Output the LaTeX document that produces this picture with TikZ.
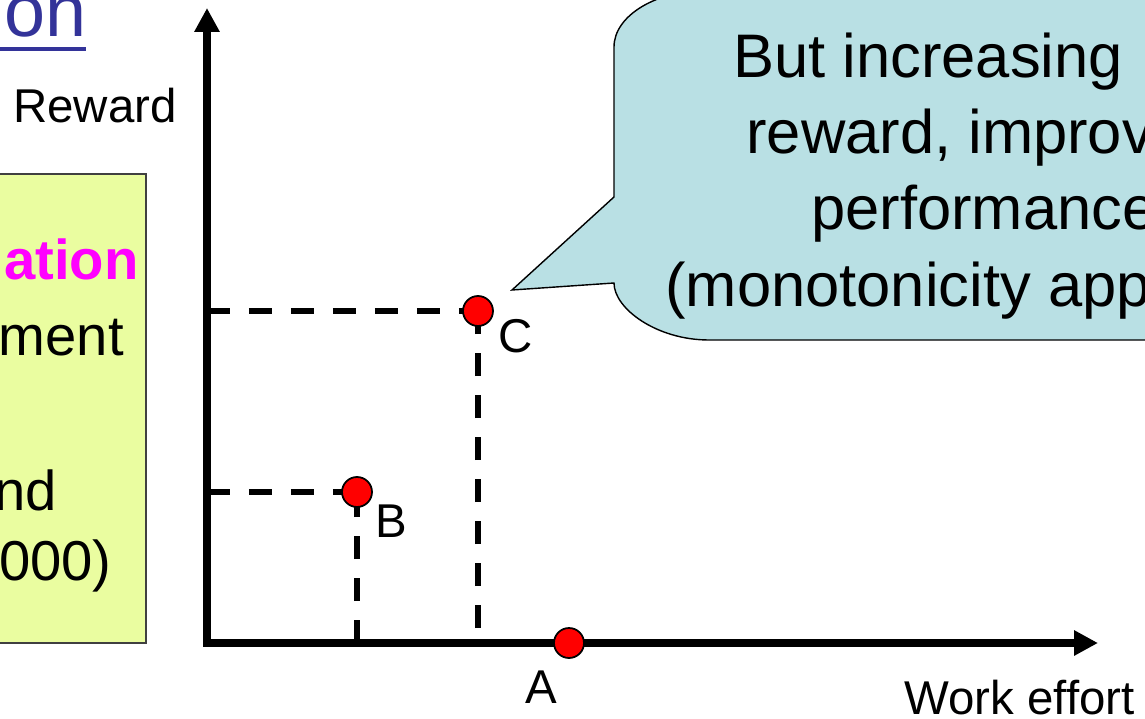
\documentclass[tikz,border=0pt]{standalone}
\usepackage{fontspec}
\setmainfont{Liberation Sans}
\usepackage{tikz}
\usetikzlibrary{arrows.meta,positioning,calc}
\definecolor{calloutfill}{RGB}{185,224,228}
\definecolor{notefill}{RGB}{234,253,160}
\definecolor{titleblue}{HTML}{333399}
\definecolor{notemagenta}{HTML}{FF00FF}
\definecolor{dotred}{HTML}{FF0000}

\begin{document}
\begin{tikzpicture}[
  x=0.02cm, y=-0.02cm,
  axis/.style={line width=4pt,{Triangle[length=0.48cm,width=0.48cm]}-{Triangle[length=0.48cm,width=0.48cm]}},
  guide/.style={line width=3.3pt,dash pattern=on 0.46cm off 0.38cm},
  dot/.style={circle,draw=black,fill=dotred,line width=1pt,minimum size=0.6cm,inner sep=0pt},
  lbl/.style={inner sep=0pt,font=\fontsize{27pt}{30pt}\selectfont},
  callout/.style={draw=black,fill=calloutfill,line width=0.8pt},
  calltxt/.style={inner sep=0pt,anchor=base west,font=\fontsize{35pt}{40pt}\selectfont},
  notebox/.style={draw=black!75,fill=notefill,line width=1pt},
  notetxt/.style={inner sep=0pt,anchor=base east,font=\fontsize{32pt}{36pt}\selectfont}
]
\useasboundingbox (0,0) rectangle (1145,719);

% Title fragment
\node[inner sep=0pt,anchor=base east,text=titleblue,font=\fontsize{42pt}{46pt}\selectfont] (title) at (87,37) {on};
\fill[titleblue] (-2,47) rectangle (86,51);

% Note box on the left
\draw[notebox] (-10,174) rectangle (146,643);
\node[notetxt,text=notemagenta,font=\fontsize{32pt}{36pt}\selectfont\bfseries] (n1) at (139,280) {ation};
\node[notetxt] (n2) at (124,355) {ment};
\node[notetxt] (n3) at (57,510) {nd};
\node[notetxt] (n4) at (112,580) {000)};

% Axes
\coordinate (O) at (207,643);
\coordinate (ytop) at (207,8);
\coordinate (xend) at (1098,643);
\draw[axis] (ytop) -- (O) -- (xend);
\node[lbl,anchor=base west] (ylab) at (13,123) {Reward};
\node[lbl,anchor=base west] (xlab) at (904,714) {Work effort};

% Guide lines (under the points)
\coordinate (pB) at (357,492);
\coordinate (pC) at (478,311);
\draw[guide] (O |- pC) -- (pC);
\draw[guide] ([yshift=0.3cm]pC |- O) -- (pC);
\draw[guide] (O |- pB) -- (pB);
\draw[guide] (pB |- O) -- (pB);

% Points
\node[dot] (A) at (569,643) {};
\node[dot] (B) at (pB) {};
\node[dot] (C) at (pC) {};
\node[lbl,anchor=base west] (Clab) at ($(C)+(20,41)$) {C};
\node[lbl,anchor=base west] (Blab) at ($(B)+(18,45)$) {B};
\node[lbl,anchor=base west] (Alab) at ($(A)+(-44,60)$) {A};

% Callout
\coordinate (tip) at (512,290);
\draw[callout] (614,197) -- (614,47) .. controls (614,15.5) and (656.5,-10) .. (709,-10)
  -- (1250,-10) -- (1250,340) -- (709,340) .. controls (656.5,340) and (614,308.5) .. (614,283)
  -- (tip) -- cycle;
\node[calltxt] (cl1) at (733,78) {But increasing};
\node[calltxt] (cl2) at (746,154) {reward, improv};
\node[calltxt] (cl3) at (811,230) {performance};
\node[calltxt] (cl4) at (665,307) {(monotonicity app};

\end{tikzpicture}
\end{document}
